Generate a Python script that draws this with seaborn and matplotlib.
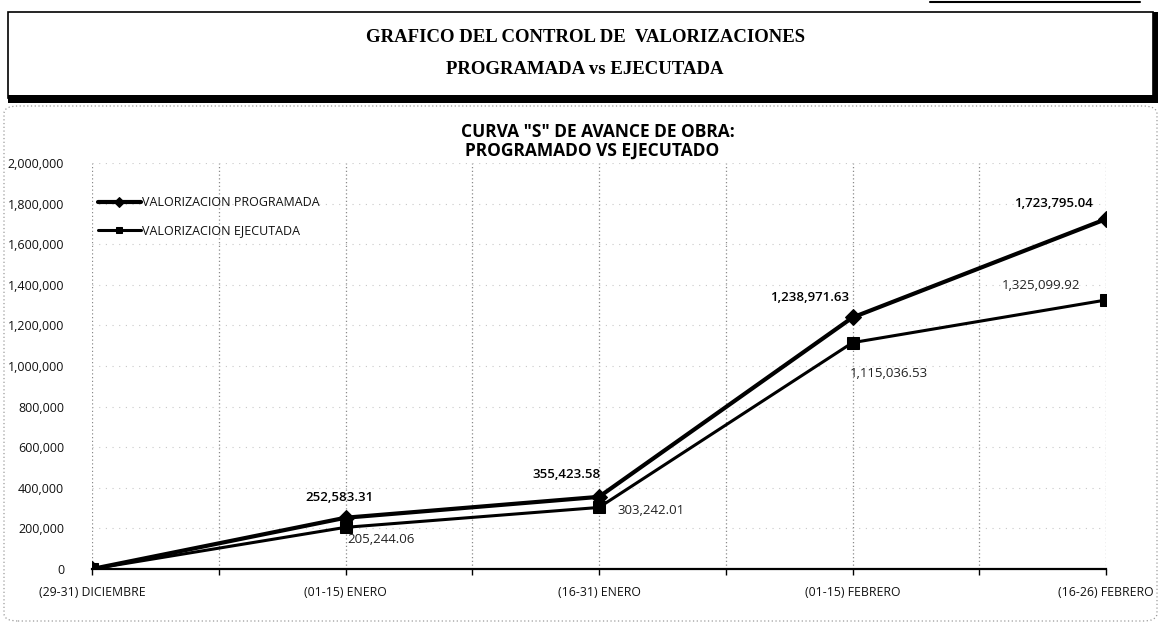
import matplotlib
matplotlib.use("Agg")
import matplotlib.pyplot as plt
import seaborn as sns
import pandas as pd
from matplotlib.patches import Rectangle, FancyBboxPatch
from matplotlib.lines import Line2D
from matplotlib.ticker import FixedLocator, FuncFormatter

# ---- data ----
periodos = ["(29-31) DICIEMBRE", "(01-15) ENERO", "(16-31) ENERO",
            "(01-15) FEBRERO", "(16-26) FEBRERO"]
programada = [0, 252583.31, 355423.58, 1238971.63, 1723795.04]
ejecutada = [0, 205244.06, 303242.01, 1115036.53, 1325099.92]
serie_prog = "VALORIZACION PROGRAMADA"
serie_ejec = "VALORIZACION EJECUTADA"
etiquetas_prog = ["", "252,583.31", "355,423.58", "1,238,971.63", "1,723,795.04"]
etiquetas_ejec = ["", "205,244.06", "303,242.01", "1,115,036.53", "1,325,099.92"]
yticks = [0, 200000, 400000, 600000, 800000, 1000000, 1200000,
          1400000, 1600000, 1800000, 2000000]

sns.set_theme(style="white")
plt.rcParams["font.family"] = ["Open Sans", "DejaVu Sans"]
plt.rcParams["text.color"] = "black"

W, H = 1161, 629
fig = plt.figure(figsize=(W / 100, H / 100), dpi=100)

def fx(px):
    return px / W

def fy(py):
    return 1 - py / H

# ---- title box ----
fig.patches.append(Rectangle((fx(8), fy(98)), fx(1153) - fx(8), fy(12) - fy(98),
                             transform=fig.transFigure, fill=False,
                             edgecolor="black", linewidth=1.2))
fig.patches.append(Rectangle((fx(8), fy(103)), fx(1158) - fx(8), fy(95) - fy(103),
                             transform=fig.transFigure, facecolor="black",
                             edgecolor="none"))
fig.patches.append(Rectangle((fx(1153), fy(103)), fx(1158) - fx(1153), fy(12) - fy(103),
                             transform=fig.transFigure, facecolor="black",
                             edgecolor="none"))
fig.lines.append(Line2D([fx(930), fx(1140)], [fy(2), fy(2)],
                        transform=fig.transFigure, color="black", linewidth=1.5))
fig.text(fx(585), fy(37), "GRAFICO DEL CONTROL DE  VALORIZACIONES",
         ha="center", va="center", family="Liberation Serif",
         fontweight="bold", fontsize=13.5, color="black")
fig.text(fx(585), fy(70), "PROGRAMADA vs EJECUTADA",
         ha="center", va="center", family="Liberation Serif",
         fontweight="bold", fontsize=13.5, color="black")

# ---- chart area border ----
fig.patches.append(FancyBboxPatch((fx(4), fy(621)), fx(1157) - fx(4), fy(106) - fy(621),
                                  boxstyle="round,pad=0,rounding_size=0.012",
                                  transform=fig.transFigure, fill=False,
                                  edgecolor="#9a9a9a", linewidth=0.9,
                                  linestyle=(0, (1, 2))))
fig.text(fx(598), fy(132), 'CURVA "S" DE AVANCE DE OBRA:', ha="center", va="center",
         fontweight="bold", fontsize=12.5, color="black")
fig.text(fx(592), fy(151), "PROGRAMADO VS EJECUTADO", ha="center", va="center",
         fontweight="bold", fontsize=12.5, color="black")

# ---- plot ----
ax = fig.add_axes([fx(92), fy(569), fx(1106) - fx(92), fy(163) - fy(569)])
df = pd.DataFrame({
    "periodo": periodos * 2,
    "valor": programada + ejecutada,
    "serie": [serie_prog] * len(periodos) + [serie_ejec] * len(periodos),
})
sns.lineplot(data=df[df.serie == serie_prog], x="periodo", y="valor", ax=ax,
             color="black", linewidth=3.0, marker="D", markersize=8.5,
             markeredgecolor="black", label=serie_prog, sort=False)
sns.lineplot(data=df[df.serie == serie_ejec], x="periodo", y="valor", ax=ax,
             color="black", linewidth=2.2, marker="s", markersize=8.5,
             markeredgecolor="black", label=serie_ejec, sort=False)

ax.set_xlim(0, len(periodos) - 1)
ax.set_ylim(0, 2000000)
ax.set_yticks(yticks)
ax.yaxis.set_major_formatter(FuncFormatter(lambda v, p: f"{int(v):,}"))
ax.xaxis.set_minor_locator(FixedLocator([i + 0.5 for i in range(len(periodos) - 1)]))
ax.set_xlabel("")
ax.set_ylabel("")

for s in ["top", "right", "left"]:
    ax.spines[s].set_visible(False)
ax.spines["bottom"].set_color("black")
ax.spines["bottom"].set_linewidth(1.6)

ax.tick_params(axis="x", which="both", bottom=True, length=4, width=1,
               color="black", direction="out", labelsize=8.8, pad=8, labelcolor="#111111")
ax.tick_params(axis="y", left=False, labelsize=9, pad=14, labelcolor="#111111")

ax.grid(False)
ax.xaxis.grid(True, which="both", color="#8a8a8a", linestyle=(0, (1, 2)), linewidth=0.9)
ax.yaxis.grid(True, color="#c8c8c8", linestyle=(0, (1, 5)), linewidth=0.8)
ax.set_axisbelow(True)

# data labels
off_prog = [None, (-6, 20, "center"), (2, 22, "right"), (-3, 20, "right"), (-13, 16, "right")]
off_ejec = [None, (2, -12, "left"), (18, -3, "left"), (-3, -31, "left"), (-26, 15, "right")]
for i in range(len(periodos)):
    if etiquetas_prog[i]:
        dx, dy, ha = off_prog[i]
        ax.annotate(etiquetas_prog[i], xy=(i, programada[i]), xytext=(dx, dy),
                    textcoords="offset pixels", ha=ha, va="center",
                    fontsize=9.5, fontweight="semibold", color="black")
    if etiquetas_ejec[i]:
        dx, dy, ha = off_ejec[i]
        ax.annotate(etiquetas_ejec[i], xy=(i, ejecutada[i]), xytext=(dx, dy),
                    textcoords="offset pixels", ha=ha, va="center",
                    fontsize=9.5, color="#222222")

leg = ax.legend(loc="upper left", bbox_to_anchor=(fx(98), fy(196)),
                bbox_transform=fig.transFigure, frameon=False, fontsize=9,
                handlelength=3.4, handletextpad=0.1, labelspacing=1.2,
                borderpad=0, borderaxespad=0, markerscale=0.55)
for t in leg.get_texts():
    t.set_color("#111111")

fig.savefig("out.png", dpi=100, facecolor="white")
